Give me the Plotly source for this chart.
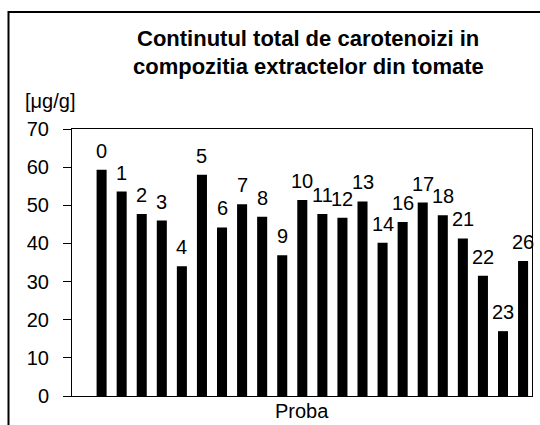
import plotly.graph_objects as go

labels = ["0", "1", "2", "3", "4", "5", "6", "7", "8", "9", "10", "11",
          "12", "13", "14", "16", "17", "18", "21", "22", "23", "26"]
values = [59.3, 53.6, 47.7, 46.0, 34.0, 58.0, 44.2, 50.3, 47.0, 36.9, 51.4, 47.7,
          46.7, 51.0, 40.2, 45.6, 50.7, 47.4, 41.3, 31.5, 17.0, 35.4]
y_ticks = [0, 10, 20, 30, 40, 50, 60, 70]

title_lines = ["Continutul total de carotenoizi in", "compozitia extractelor din tomate"]
y_title = "[μg/g]"
x_title = "Proba"

FONT = "Arial, Liberation Sans, sans-serif"

W, H = 540, 425
L, R, T, B = 72, 8, 129, 29
pw = W - L - R
ph = H - T - B


def px_x(x):
    return (x - L) / pw


def px_y(y):
    return (H - B - y) / ph


positions = list(range(len(labels)))

fig = go.Figure()
fig.add_trace(go.Bar(
    x=positions, y=values, width=0.5,
    marker=dict(color="black", line=dict(width=0)),
    text=labels, textposition="none",
    showlegend=False, hovertemplate="%{text}: %{y}<extra></extra>",
))

for pos, lab, v in zip(positions, labels, values):
    fig.add_annotation(x=pos, y=v, xref="x", yref="y", text=lab, showarrow=False,
                       yanchor="bottom", yshift=6,
                       font=dict(family=FONT, size=20, color="black"))

fig.add_annotation(x=px_x(308), y=px_y(38), xref="paper", yref="paper",
                   text="<b>%s</b>" % title_lines[0], showarrow=False,
                   xanchor="center", yanchor="middle",
                   font=dict(family=FONT, size=22, color="black"))
fig.add_annotation(x=px_x(308), y=px_y(66), xref="paper", yref="paper",
                   text="<b>%s</b>" % title_lines[1], showarrow=False,
                   xanchor="center", yanchor="middle",
                   font=dict(family=FONT, size=22, color="black"))
fig.add_annotation(x=px_x(23), y=px_y(101), xref="paper", yref="paper",
                   text=y_title, showarrow=False, xanchor="left", yanchor="middle",
                   font=dict(family=FONT, size=20, color="black"))
fig.add_annotation(x=px_x(302), y=px_y(411), xref="paper", yref="paper",
                   text=x_title, showarrow=False, xanchor="center", yanchor="middle",
                   font=dict(family=FONT, size=20, color="black"))

# outer chart border
fig.add_shape(type="rect", xref="paper", yref="paper",
              x0=px_x(8.5), x1=px_x(560), y0=px_y(445), y1=px_y(12),
              line=dict(color="black", width=2), fillcolor="rgba(0,0,0,0)", layer="above")

fig.update_layout(
    template="none",
    width=W, height=H,
    margin=dict(l=L, r=R, t=T, b=B, pad=0),
    paper_bgcolor="white", plot_bgcolor="white",
    font=dict(family=FONT, size=20, color="black"),
)
fig.update_xaxes(range=[-1.475, 21.445], showticklabels=False, automargin=False,
                 ticks="", showline=True, linecolor="black", linewidth=1, mirror=True,
                 showgrid=False, zeroline=False, fixedrange=True)
fig.update_yaxes(range=[0, 70], tickvals=y_ticks, ticks="outside", ticklen=8,
                 automargin=False,
                 tickcolor="black", tickwidth=1, showline=True, linecolor="black",
                 linewidth=1, mirror=True, showgrid=False, zeroline=False,
                 tickfont=dict(family=FONT, size=20, color="black"),
                 ticklabelstandoff=10, fixedrange=True)

fig.write_html("out.html", config={"displayModeBar": False},
               post_script="document.body.style.margin='0';document.body.style.overflow='hidden';")
